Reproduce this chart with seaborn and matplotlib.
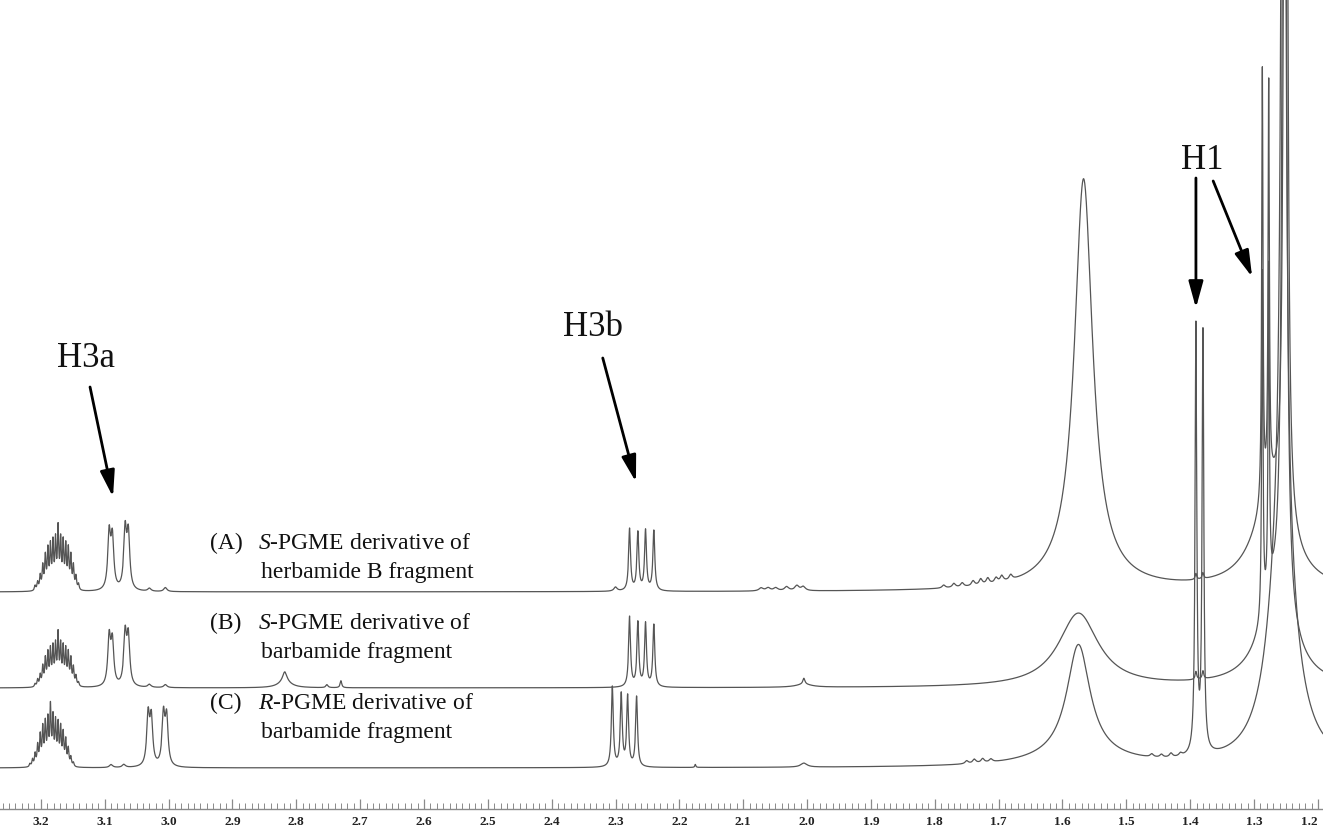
import numpy as np
import pandas as pd
import matplotlib
matplotlib.use("Agg")
import matplotlib.pyplot as plt
import seaborn as sns

# ---------------- data ----------------
# peak lists: chemical shift (ppm), height (intensity units), half width (ppm)
traces = ["A", "B", "C"]

A_pos = [3.209, 3.205, 3.201, 3.197, 3.193, 3.189, 3.185, 3.181, 3.177, 3.173, 3.169, 3.165, 3.161, 3.157, 3.153,
         3.149, 3.145, 3.141,
         3.093, 3.088, 3.068, 3.063, 3.030, 3.005, 2.300,
         2.278, 2.265, 2.253, 2.240,
         2.072, 2.061, 2.049, 2.032, 2.016, 2.006,
         1.786, 1.770, 1.757, 1.740, 1.728, 1.717, 1.704, 1.695, 1.681,
         1.567, 1.567, 1.391, 1.380, 1.287, 1.277, 1.2505, 1.272]
A_hgt = [5, 8, 14, 23, 32, 38, 41, 44, 46, 58, 46, 44, 41, 38, 32, 23, 13, 6,
         55, 50, 58, 54, 3, 4, 4,
         62, 58, 60, 60,
         3, 3, 3, 4, 5, 4,
         3, 4, 4, 5, 6, 6, 5, 6, 5,
         392, 20, 6, 6, 432, 400, 2000, 95]
A_wid = [0.0012] * 18 + [0.0026] * 4 + [0.003] * 3 + [0.0018] * 4 + [0.004] * 6 + [0.003] * 9 + \
        [0.017, 0.05, 0.0015, 0.0015, 0.0012, 0.0012, 0.0022, 0.033]

B_pos = [3.209, 3.205, 3.201, 3.197, 3.193, 3.189, 3.185, 3.181, 3.177, 3.173, 3.169, 3.165, 3.161, 3.157, 3.153,
         3.149, 3.145, 3.141,
         3.093, 3.088, 3.068, 3.063, 3.030, 3.005,
         2.818, 2.818, 2.752, 2.730,
         2.278, 2.265, 2.253, 2.240,
         2.005, 2.005,
         1.575, 1.391, 1.380, 1.287, 1.277, 1.2525, 1.265]
B_hgt = [3, 7, 11, 19, 26, 31, 34, 36, 38, 49, 38, 36, 34, 31, 26, 18, 10, 4,
         48, 43, 51, 48, 3, 3,
         10, 6, 3, 7,
         70, 64, 63, 62,
         6, 3,
         74, 8, 8, 345, 325, 1800, 90]
B_wid = [0.0012] * 18 + [0.0026] * 4 + [0.003] * 2 + [0.004, 0.012, 0.002, 0.0015] + [0.0018] * 4 + \
        [0.002, 0.015, 0.038, 0.0015, 0.0015, 0.0012, 0.0012, 0.0025, 0.03]

C_pos = [3.217, 3.213, 3.209, 3.205, 3.201, 3.197, 3.193, 3.189, 3.185, 3.181, 3.177, 3.173, 3.169, 3.165, 3.161,
         3.157, 3.153, 3.149,
         3.032, 3.027, 3.008, 3.003, 3.090, 3.070,
         2.305, 2.291, 2.281, 2.267,
         2.175, 2.005,
         1.575, 1.575,
         1.750, 1.738, 1.725, 1.712,
         1.460, 1.445, 1.430, 1.415,
         1.391, 1.380, 1.254, 1.256]
C_hgt = [3, 7, 12, 20, 29, 36, 40, 43, 56, 45, 41, 39, 36, 31, 25, 17, 9, 4,
         50, 46, 50, 47, 3, 3,
         80, 72, 70, 70,
         3, 4,
         112, 10,
         3, 4, 4, 3,
         3, 3, 4, 3,
         427, 419, 1600, 240]
C_wid = [0.0012] * 18 + [0.0026] * 4 + [0.003] * 2 + [0.0018] * 4 + [0.001, 0.006, 0.022, 0.08] + \
        [0.003] * 4 + [0.003] * 4 + [0.0016, 0.0016, 0.003, 0.024]

peak_lists = {"A": (A_pos, A_hgt, A_wid), "B": (B_pos, B_hgt, B_wid), "C": (C_pos, C_hgt, C_wid)}

tick_values = [3.2, 3.1, 3.0, 2.9, 2.8, 2.7, 2.6, 2.5, 2.4, 2.3, 2.2, 2.1, 2.0, 1.9, 1.8, 1.7, 1.6, 1.5, 1.4, 1.3, 1.2]
tick_labels = ["3.2", "3.1", "3.0", "2.9", "2.8", "2.7", "2.6", "2.5", "2.4", "2.3", "2.2", "2.1", "2.0",
               "1.9", "1.8", "1.7", "1.6", "1.5", "1.4", "1.3", "1.2"]

label_tag = {"A": "(A)", "B": "(B)", "C": "(C)"}
label_line1 = {"A": "$\\mathit{S}$-PGME derivative of",
               "B": "$\\mathit{S}$-PGME derivative of",
               "C": "$\\mathit{R}$-PGME derivative of"}
label_line2 = {"A": "herbamide B fragment", "B": "barbamide fragment", "C": "barbamide fragment"}

# ---------------- layout / style ----------------
X_LEFT, X_RIGHT = 3.264, 1.192
Y_TOP = 809
offsets = {"A": 217, "B": 121, "C": 41}

sns.set_theme(style="white")
plt.rcParams["font.family"] = ["Liberation Serif", "DejaVu Serif"]
plt.rcParams["mathtext.fontset"] = "custom"
plt.rcParams["mathtext.rm"] = "Liberation Serif"
plt.rcParams["mathtext.it"] = "Liberation Serif:italic"

ppm = np.linspace(X_RIGHT, X_LEFT, 22000)
frames = []
for t in traces:
    pos, hgt, wid = peak_lists[t]
    y = np.zeros_like(ppm)
    for p, h, w in zip(pos, hgt, wid):
        y += h / (1.0 + ((ppm - p) / w) ** 2)
    frames.append(pd.DataFrame({"ppm": ppm, "intensity": y + offsets[t], "trace": t}))
df = pd.concat(frames, ignore_index=True)

fig = plt.figure(figsize=(13.23, 8.33), dpi=100)
ax = fig.add_axes([0, 24 / 833, 1, Y_TOP / 833])

sns.lineplot(data=df, x="ppm", y="intensity", hue="trace", units="trace", estimator=None, sort=False,
             palette={"A": "#555555", "B": "#555555", "C": "#555555"}, linewidth=0.9, legend=False, ax=ax)

ax.set_xlim(X_LEFT, X_RIGHT)
ax.set_ylim(0, Y_TOP)
ax.set_xlabel("")
ax.set_ylabel("")
ax.set_yticks([])
for s in ["left", "right", "top"]:
    ax.spines[s].set_visible(False)
ax.spines["bottom"].set_color("#8a8a8a")
ax.spines["bottom"].set_linewidth(1.0)

ax.set_xticks(tick_values)
ax.set_xticklabels(tick_labels, fontsize=9.5, fontweight="bold", color="#222222")
ax.get_xticklabels()[-1].set_horizontalalignment("right")
ax.set_xticks(np.round(np.arange(1.20, 3.261, 0.01), 2), minor=True)
ax.tick_params(axis="x", which="major", direction="in", length=7, width=0.9, color="#8a8a8a", pad=5, bottom=True)
ax.tick_params(axis="x", which="minor", direction="in", length=4, width=0.7, color="#8a8a8a", bottom=True)

# sample labels
tag_x = 3.264 - 210 / 638.5
line1_x = 3.264 - 258 / 638.5
line2_x = 3.264 - 261 / 638.5
for t, base in zip(traces, [549, 629, 709]):
    ax.text(tag_x, Y_TOP - base, label_tag[t], fontsize=17, ha="left", va="baseline", color="#111111")
    ax.text(line1_x, Y_TOP - base, label_line1[t], fontsize=17, ha="left", va="baseline", color="#111111")
    ax.text(line2_x, Y_TOP - base - 29, label_line2[t], fontsize=17, ha="left", va="baseline", color="#111111")

# annotations
arrow_kw = dict(arrowstyle="-|>,head_length=0.8,head_width=0.22", color="black", lw=2.0,
                mutation_scale=20, shrinkA=0, shrinkB=0)
ax.text(3.130, Y_TOP - 358, "H3a", fontsize=25, ha="center", va="center", color="#111111")
ax.annotate("", xy=(3.087, Y_TOP - 497), xytext=(3.123, Y_TOP - 387), arrowprops=arrow_kw)

ax.text(2.335, Y_TOP - 327, "H3b", fontsize=25, ha="center", va="center", color="#111111")
ax.annotate("", xy=(2.268, Y_TOP - 482), xytext=(2.320, Y_TOP - 358), arrowprops=arrow_kw)

ax.text(1.381, Y_TOP - 160, "H1", fontsize=25, ha="center", va="center", color="#111111")
ax.annotate("", xy=(1.391, Y_TOP - 308), xytext=(1.391, Y_TOP - 178), arrowprops=arrow_kw)
ax.annotate("", xy=(1.303, Y_TOP - 277), xytext=(1.364, Y_TOP - 181), arrowprops=arrow_kw)

fig.savefig("out.png", dpi=100, facecolor="white")
